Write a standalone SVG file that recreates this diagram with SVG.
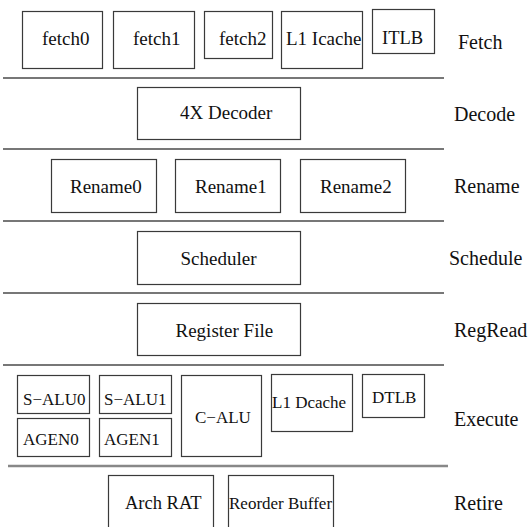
<svg xmlns="http://www.w3.org/2000/svg" width="532" height="527" viewBox="0 0 532 527">
  <style>
    .box { fill: #ffffff; stroke: #3a3a3a; stroke-width: 1.2; }
    .lbl { font-family: 'Liberation Serif', 'DejaVu Serif', serif; font-size: 19px; fill: #111111; }
    .sm { font-size: 17px; }
    .md { font-size: 18.5px; }
    .stage { font-family: 'Liberation Serif', 'DejaVu Serif', serif; font-size: 20px; fill: #111111; }
    .div { stroke: #4a4a4a; stroke-width: 1.4; fill: none; }
    .div2 { stroke: #888888; stroke-width: 2.4; fill: none; }
  </style>
  <rect width="532" height="527" fill="#ffffff"/>

  <!-- stage dividers -->
  <g id="dividers">
    <line class="div" x1="3" y1="78" x2="444" y2="78"/>
    <line class="div" x1="3" y1="149" x2="444" y2="149"/>
    <line class="div" x1="3" y1="221" x2="444" y2="221"/>
    <line class="div" x1="3" y1="293" x2="444" y2="293"/>
    <line class="div" x1="3" y1="365" x2="444" y2="365"/>
    <line class="div2" x1="8" y1="466" x2="448" y2="466"/>
  </g>

  <!-- Fetch -->
  <g id="fetch0"><rect class="box" x="22.5" y="11.5" width="80" height="57"/><text class="lbl" x="42" y="45">fetch0</text></g>
  <g id="fetch1"><rect class="box" x="113.5" y="11.5" width="81" height="57"/><text class="lbl" x="133" y="45">fetch1</text></g>
  <g id="fetch2"><rect class="box" x="204.5" y="11.5" width="68" height="47"/><text class="lbl" x="219" y="45">fetch2</text></g>
  <g id="l1-icache"><rect class="box" x="281.5" y="11.5" width="81" height="57"/><text class="lbl" x="286" y="45">L1 Icache</text></g>
  <g id="itlb"><rect class="box" x="372.5" y="9.5" width="62" height="44"/><text class="lbl md" x="382" y="44">ITLB</text></g>

  <!-- Decode -->
  <g id="decoder"><rect class="box" x="137.5" y="87.5" width="163" height="52"/><text class="lbl" x="180" y="119">4X Decoder</text></g>

  <!-- Rename -->
  <g id="rename0"><rect class="box" x="51.5" y="159.5" width="105" height="53"/><text class="lbl" x="70" y="193">Rename0</text></g>
  <g id="rename1"><rect class="box" x="175.5" y="159.5" width="105" height="53"/><text class="lbl" x="195" y="193">Rename1</text></g>
  <g id="rename2"><rect class="box" x="300.5" y="159.5" width="105" height="53"/><text class="lbl" x="320" y="193">Rename2</text></g>

  <!-- Schedule -->
  <g id="scheduler"><rect class="box" x="137.5" y="231.5" width="163" height="53"/><text class="lbl" x="180.5" y="265">Scheduler</text></g>

  <!-- RegRead -->
  <g id="register-file"><rect class="box" x="137.5" y="303.5" width="163" height="52"/><text class="lbl" x="175.5" y="337">Register File</text></g>

  <!-- Execute -->
  <g id="s-alu0"><rect class="box" x="17.5" y="375.5" width="72" height="38"/><text class="lbl sm" x="23" y="405">S−ALU0</text></g>
  <g id="s-alu1"><rect class="box" x="99.5" y="375.5" width="72" height="38"/><text class="lbl sm" x="104" y="405">S−ALU1</text></g>
  <g id="agen0"><rect class="box" x="17.5" y="418.5" width="72" height="38"/><text class="lbl sm" x="23" y="445">AGEN0</text></g>
  <g id="agen1"><rect class="box" x="99.5" y="418.5" width="72" height="38"/><text class="lbl sm" x="104" y="445">AGEN1</text></g>
  <g id="c-alu"><rect class="box" x="181.5" y="375.5" width="80" height="81"/><text class="lbl sm" x="195" y="423">C−ALU</text></g>
  <g id="l1-dcache"><rect class="box" x="271.5" y="374.5" width="81" height="57"/><text class="lbl sm" x="272" y="408">L1 Dcache</text></g>
  <g id="dtlb"><rect class="box" x="362.5" y="374.5" width="62" height="43"/><text class="lbl sm" x="372" y="403">DTLB</text></g>

  <!-- Retire -->
  <g id="arch-rat"><rect class="box" x="108.5" y="475.5" width="105" height="60"/><text class="lbl md" x="125" y="509">Arch RAT</text></g>
  <g id="reorder-buffer"><rect class="box" x="228.5" y="475.5" width="105" height="60"/><text class="lbl sm" x="229" y="509">Reorder Buffer</text></g>

  <!-- stage names -->
  <g id="stages">
    <text class="stage" x="458" y="49">Fetch</text>
    <text class="stage" x="454" y="121">Decode</text>
    <text class="stage" x="454" y="193">Rename</text>
    <text class="stage" x="449" y="265">Schedule</text>
    <text class="stage" x="454" y="337">RegRead</text>
    <text class="stage" x="454" y="426">Execute</text>
    <text class="stage" x="454" y="510">Retire</text>
  </g>
</svg>
